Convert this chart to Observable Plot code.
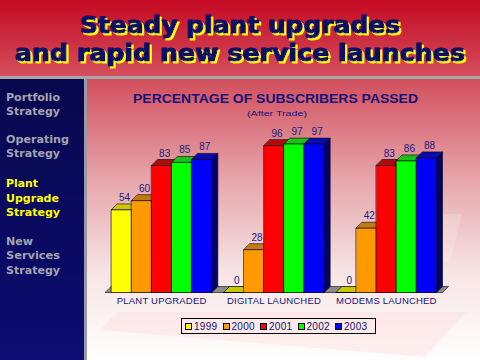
<!DOCTYPE html>
<html>
<head>
<meta charset="utf-8">
<script src="https://cdn.jsdelivr.net/npm/d3@7"></script>
<script src="https://cdn.jsdelivr.net/npm/@observablehq/plot@0.6"></script>
<style>
  html, body { margin: 0; padding: 0; }
  body { width: 480px; height: 360px; position: relative; overflow: hidden; background: #fff; }
  #deco { position: absolute; left: 0; top: 0; }
  #chart { position: absolute; left: 87px; top: 120px; }
  #legend { position: absolute; left: 181px; top: 318px; width: 190px; height: 14px;
            border: 1px solid #000; display: flex; align-items: center; padding-left: 3px; box-sizing: content-box;
            font-family: "Liberation Sans", Arial, sans-serif; font-size: 10px; color: #10106e; }
  #legend .item { display: flex; align-items: center; width: 37.5px; }
  #legend .sw { width: 5px; height: 5px; border: 1px solid #000; margin-right: 2px; }
  #legend .lb { letter-spacing: 0.3px; }
</style>
</head>
<body>
<svg id="deco" width="480" height="360" xmlns="http://www.w3.org/2000/svg">
  <defs>
    <linearGradient id="gTitle" x1="0" y1="0" x2="0" y2="1">
      <stop offset="0" stop-color="#c40a22"/>
      <stop offset="1" stop-color="#d4505e"/>
    </linearGradient>
    <linearGradient id="gSide" x1="0" y1="0" x2="0" y2="1">
      <stop offset="0" stop-color="#08084e"/>
      <stop offset="1" stop-color="#0c0c72"/>
    </linearGradient>
    <linearGradient id="gPanel" x1="0" y1="0" x2="0" y2="1">
      <stop offset="0" stop-color="#d24e5c"/>
      <stop offset="0.35" stop-color="#e6a4aa"/>
      <stop offset="0.7" stop-color="#f8e6e6"/>
      <stop offset="1" stop-color="#ffffff"/>
    </linearGradient>
    <filter id="yShadow" x="-5%" y="-20%" width="110%" height="140%">
      <feOffset in="SourceAlpha" dx="1.5" dy="1.5" result="off"/>
      <feFlood flood-color="#ffff00"/>
      <feComposite in2="off" operator="in" result="shadow"/>
      <feMerge>
        <feMergeNode in="shadow"/>
        <feMergeNode in="SourceGraphic"/>
      </feMerge>
    </filter>
  </defs>
  <rect x="0" y="0" width="480" height="77" fill="url(#gTitle)"/>
  <rect x="0" y="76" width="480" height="3" fill="#a8a8a8"/>
  <rect x="0" y="79" width="84" height="281" fill="url(#gSide)"/>
  <rect x="84" y="79" width="3" height="281" fill="#9a9aa6"/>
  <rect x="87" y="79" width="393" height="281" fill="url(#gPanel)"/>
  <polygon points="118,312 466,312 425,357 100,330" fill="#ffd0d0" opacity="0.3"/>
  <polygon points="405,214 462,214 450,262 393,262" fill="#ffffff" opacity="0.2"/>

  <g font-family="DejaVu Sans, sans-serif" font-weight="bold" font-size="23.5" fill="#0a0a66"
     stroke="#0a0a66" stroke-width="1.2" stroke-linejoin="round" filter="url(#yShadow)">
    <text x="80" y="32.5" textLength="320" lengthAdjust="spacingAndGlyphs">Steady plant upgrades</text>
    <text x="15" y="60.5" textLength="450" lengthAdjust="spacingAndGlyphs">and rapid new service launches</text>
  </g>

  <g font-family="DejaVu Sans, sans-serif" font-weight="bold" font-size="11" fill="#a4a4ae">
    <text x="6" y="101" textLength="54" lengthAdjust="spacingAndGlyphs">Portfolio</text>
    <text x="6" y="115" textLength="54" lengthAdjust="spacingAndGlyphs">Strategy</text>
    <text x="6" y="143" textLength="63" lengthAdjust="spacingAndGlyphs">Operating</text>
    <text x="6" y="157" textLength="54" lengthAdjust="spacingAndGlyphs">Strategy</text>
    <text x="6" y="187" textLength="32" lengthAdjust="spacingAndGlyphs" fill="#ffff00">Plant</text>
    <text x="6" y="202" textLength="53" lengthAdjust="spacingAndGlyphs" fill="#ffff00">Upgrade</text>
    <text x="6" y="216" textLength="54" lengthAdjust="spacingAndGlyphs" fill="#ffff00">Strategy</text>
    <text x="6" y="245" textLength="27" lengthAdjust="spacingAndGlyphs">New</text>
    <text x="6" y="259" textLength="54" lengthAdjust="spacingAndGlyphs">Services</text>
    <text x="6" y="274" textLength="54" lengthAdjust="spacingAndGlyphs">Strategy</text>
  </g>

  <g font-family="Liberation Sans, Arial, sans-serif" fill="#14147a">
    <text x="133" y="103" font-size="12.5" font-weight="bold" textLength="285" lengthAdjust="spacingAndGlyphs">PERCENTAGE OF SUBSCRIBERS PASSED</text>
    <text x="247" y="116" font-size="8" textLength="60" lengthAdjust="spacingAndGlyphs">(After Trade)</text>
  </g>
</svg>
<div id="chart"></div>
<div id="legend"></div>
<script>
// ---- data ----
const categories = ["PLANT UPGRADED", "DIGITAL LAUNCHED", "MODEMS LAUNCHED"];
const years = ["1999", "2000", "2001", "2002", "2003"];
const plantUpgraded = [54, 60, 83, 85, 87];
const digitalLaunched = [0, 28, 96, 97, 97];
const modemsLaunched = [0, 42, 83, 86, 88];
const seriesByCategory = [plantUpgraded, digitalLaunched, modemsLaunched];

// ---- styles ----
const frontColors = ["#ffff00", "#ff9900", "#ff0000", "#00ff00", "#0000ff"];
const topColors   = ["#c8c800", "#c47a10", "#b00c0c", "#18c018", "#0a0ab4"];
const sideColors  = ["#7a7a00", "#7a4800", "#780000", "#007800", "#00006e"];
const floorColor = "#8a8a8a";

// layout in x-units (1 unit = one bar width)
const stride = 5.6, depthX = 0.3, depthY = 3.9;

const bars = [];
seriesByCategory.forEach((vals, gi) => {
  vals.forEach((v, si) => {
    const x1 = gi * stride + si;
    bars.push({cat: categories[gi], year: years[si], si, x1, x2: x1 + 1, v});
  });
});

const polys = [];
let pid = 0;
function addPoly(pts, fill) {
  const id = pid++;
  pts.forEach(([x, y]) => polys.push({id, x, y, fill}));
}
const xMax = (categories.length - 1) * stride + years.length;
addPoly([[-0.3, 0], [xMax + 0.3, 0], [xMax + 0.3 + depthX, depthY], [-0.3 + depthX, depthY]], floorColor);
for (const b of bars) {
  addPoly([[b.x2, 0], [b.x2 + depthX, depthY], [b.x2 + depthX, b.v + depthY], [b.x2, b.v]], sideColors[b.si]);
  addPoly([[b.x1, b.v], [b.x2, b.v], [b.x2 + depthX, b.v + depthY], [b.x1 + depthX, b.v + depthY]], topColors[b.si]);
  addPoly([[b.x1, 0], [b.x2, 0], [b.x2, b.v], [b.x1, b.v]], frontColors[b.si]);
}

const centers = categories.map((c, i) => i * stride + years.length / 2);

const plot = Plot.plot({
  width: 393,
  height: 195,
  marginLeft: 24,
  marginRight: 44,
  marginTop: 19,
  marginBottom: 23,
  style: {background: "transparent", fontFamily: "Liberation Sans, Arial, sans-serif", overflow: "visible"},
  x: {domain: [0, xMax], ticks: centers, tickFormat: d => categories[Math.round((d - years.length / 2) / stride)],
      tickSize: 0, tickPadding: 5, label: null},
  y: {domain: [0, 100], axis: null},
  color: {type: "identity"},
  marks: [
    Plot.line(polys, {x: "x", y: "y", z: "id", fill: "fill", stroke: "#000", strokeWidth: 0.6,
                      strokeLinejoin: "round", curve: "linear-closed"}),
    Plot.text(bars, {x: d => d.x1 + 0.5 + depthX / 2, y: d => d.v + depthY, text: d => String(d.v),
                     lineAnchor: "bottom", dy: -3, fill: "#1a1a80", fontSize: 10})
  ]
});
const axisG = plot.querySelector("g[aria-label='x-axis tick label']") || plot.querySelector("g[aria-label='x-axis']");
if (axisG) { axisG.setAttribute("font-size", "9.5"); axisG.setAttribute("fill", "#14147a"); axisG.style.letterSpacing = "0.2px"; }
document.getElementById("chart").appendChild(plot);

// legend
const legend = document.getElementById("legend");
years.forEach((y, i) => {
  const item = document.createElement("div");
  item.className = "item";
  const sw = document.createElement("div");
  sw.className = "sw";
  sw.style.background = frontColors[i];
  const lb = document.createElement("span");
  lb.className = "lb";
  lb.textContent = y;
  item.appendChild(sw); item.appendChild(lb);
  legend.appendChild(item);
});
</script>
</body>
</html>
